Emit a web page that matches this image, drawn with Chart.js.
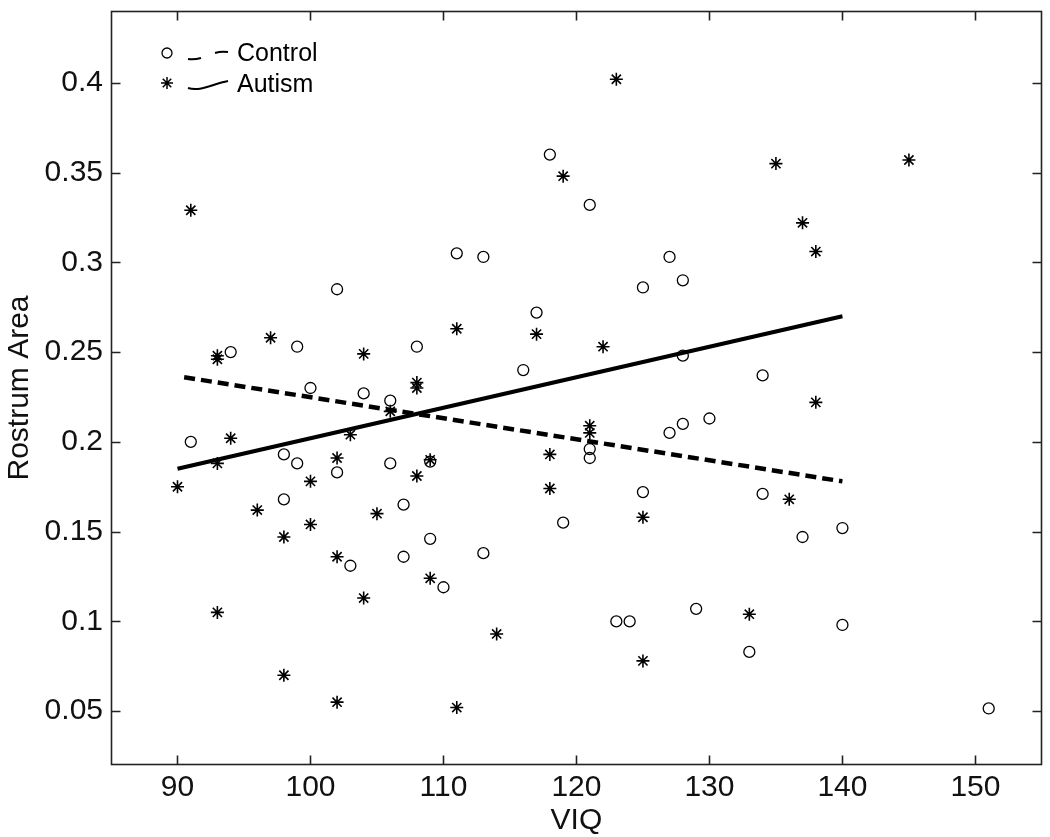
<!DOCTYPE html>
<html><head><meta charset="utf-8">
<script src="https://cdn.jsdelivr.net/npm/chart.js@4.4.1/dist/chart.umd.min.js"></script>
<style>html,body{margin:0;padding:0;background:#fff}canvas{display:block}</style>
</head><body>
<canvas id="c" width="1050" height="837"></canvas>
<script>
// ---- data ----
const controlVIQ  = [91, 94, 98, 98, 99, 99, 100, 102, 102, 103, 104, 106, 106, 107, 107, 108, 109, 109, 110, 111, 113, 113, 116, 117, 118, 119, 121, 121, 121, 123, 124, 125, 125, 127, 127, 128, 128, 128, 129, 130, 133, 134, 134, 137, 140, 140, 151];
const controlArea = [0.200, 0.250, 0.193, 0.168, 0.253, 0.188, 0.230, 0.285, 0.183, 0.131, 0.227, 0.223, 0.188, 0.165, 0.136, 0.253, 0.189, 0.146, 0.119, 0.305, 0.303, 0.138, 0.240, 0.272, 0.360, 0.155, 0.332, 0.196, 0.191, 0.100, 0.100, 0.286, 0.172, 0.303, 0.205, 0.290, 0.248, 0.210, 0.107, 0.213, 0.083, 0.237, 0.171, 0.147, 0.152, 0.098, 0.0515];

const autismVIQ  = [90, 91, 93, 93, 93, 93, 94, 96, 97, 98, 98, 100, 100, 102, 102, 102, 103, 104, 104, 105, 106, 108, 108, 108, 109, 109, 111, 111, 114, 117, 118, 118, 119, 121, 121, 122, 123, 125, 125, 133, 135, 136, 137, 138, 138, 145];
const autismArea = [0.175, 0.329, 0.248, 0.246, 0.188, 0.105, 0.202, 0.162, 0.258, 0.147, 0.070, 0.178, 0.154, 0.191, 0.136, 0.055, 0.204, 0.249, 0.113, 0.160, 0.217, 0.233, 0.230, 0.181, 0.190, 0.124, 0.263, 0.052, 0.093, 0.260, 0.193, 0.174, 0.348, 0.209, 0.205, 0.253, 0.402, 0.158, 0.078, 0.104, 0.355, 0.168, 0.322, 0.306, 0.222, 0.357];

const controlFitVIQ  = [90.5, 140];
const controlFitArea = [0.236, 0.178];
const autismFitVIQ   = [90, 140];
const autismFitArea  = [0.185, 0.270];

const xTicks = [90, 100, 110, 120, 130, 140, 150];
const yTicks = [0.05, 0.1, 0.15, 0.2, 0.25, 0.3, 0.35, 0.4];
const xLabel = 'VIQ';
const yLabel = 'Rostrum Area';
const legendLabels = ['Control', 'Autism'];

// ---- helpers ----
const toXY = (xs, ys) => xs.map((x, i) => ({x: x, y: ys[i]}));
const FONT = "'Liberation Sans', Arial, Helvetica, sans-serif";

const frameTicks = {
  id: 'frameTicks',
  afterDraw(chart) {
    const ctx = chart.ctx, a = chart.chartArea;
    const xs = chart.scales.x, ys = chart.scales.y;
    const L = Math.round(a.left) + 0.5, R = Math.round(a.right) - 0.5;
    const T = Math.round(a.top) + 0.5, B = Math.round(a.bottom) - 0.5;
    ctx.save();
    ctx.strokeStyle = '#222';
    ctx.lineWidth = 1.6;
    ctx.strokeRect(L, T, R - L, B - T);
    const tl = 9;
    ctx.beginPath();
    xTicks.forEach(v => {
      const px = Math.round(xs.getPixelForValue(v)) + 0.5;
      ctx.moveTo(px, B); ctx.lineTo(px, B - tl);
      ctx.moveTo(px, T); ctx.lineTo(px, T + tl);
    });
    yTicks.forEach(v => {
      const py = Math.round(ys.getPixelForValue(v)) + 0.5;
      ctx.moveTo(L, py); ctx.lineTo(L + tl, py);
      ctx.moveTo(R, py); ctx.lineTo(R - tl, py);
    });
    ctx.stroke();
    ctx.restore();
  }
};

const legendPlugin = {
  id: 'mlLegend',
  afterDraw(chart) {
    const ctx = chart.ctx;
    ctx.save();
    ctx.strokeStyle = '#000';
    ctx.fillStyle = '#000';
    // Control entry
    ctx.lineWidth = 1.3;
    ctx.beginPath(); ctx.arc(167, 53, 5, 0, Math.PI * 2); ctx.stroke();
    ctx.lineWidth = 2;
    ctx.beginPath();
    ctx.moveTo(188, 59); ctx.quadraticCurveTo(194, 60, 201, 58);
    ctx.moveTo(215, 53); ctx.quadraticCurveTo(221, 51, 228, 52);
    ctx.stroke();
    // Autism entry (star)
    ctx.lineWidth = 1.5;
    const sx = 167, sy = 83, r = 6;
    ctx.beginPath();
    ctx.moveTo(sx - r, sy); ctx.lineTo(sx + r, sy);
    ctx.moveTo(sx, sy - r); ctx.lineTo(sx, sy + r);
    const d = r * 0.7071;
    ctx.moveTo(sx - d, sy - d); ctx.lineTo(sx + d, sy + d);
    ctx.moveTo(sx - d, sy + d); ctx.lineTo(sx + d, sy - d);
    ctx.stroke();
    ctx.lineWidth = 2;
    ctx.beginPath();
    ctx.moveTo(188, 88); ctx.bezierCurveTo(200, 92, 212, 84, 228, 81);
    ctx.stroke();
    ctx.font = '25px ' + FONT;
    ctx.textBaseline = 'middle';
    ctx.textAlign = 'left';
    ctx.fillText(legendLabels[0], 237, 54);
    ctx.fillText(legendLabels[1], 237, 85);
    ctx.restore();
  }
};

new Chart(document.getElementById('c'), {
  type: 'scatter',
  data: {
    datasets: [
      {label: legendLabels[0], data: toXY(controlVIQ, controlArea), pointStyle: 'circle', pointRadius: 5.5, pointBorderWidth: 1.3,
       borderColor: '#000', backgroundColor: 'rgba(0,0,0,0)', pointBackgroundColor: 'rgba(0,0,0,0)', order: 3},
      {label: legendLabels[1], data: toXY(autismVIQ, autismArea), pointStyle: 'star', pointRadius: 6.5, pointBorderWidth: 1.6,
       borderColor: '#000', backgroundColor: '#000', order: 2},
      {type: 'line', label: legendLabels[0] + ' fit', data: toXY(controlFitVIQ, controlFitArea), borderColor: '#000',
       borderWidth: 4.5, borderDash: [11, 6], borderCapStyle: 'butt', pointRadius: 0, fill: false, order: 1},
      {type: 'line', label: legendLabels[1] + ' fit', data: toXY(autismFitVIQ, autismFitArea), borderColor: '#000',
       borderWidth: 4, pointRadius: 0, fill: false, order: 0}
    ]
  },
  options: {
    responsive: false,
    animation: false,
    layout: {padding: {top: 11, right: 4, left: 0, bottom: 0}},
    plugins: {legend: {display: false}, tooltip: {enabled: false}},
    scales: {
      x: {
        type: 'linear', min: 85, max: 155,
        afterBuildTicks(s) { s.ticks = xTicks.map(v => ({value: v})); },
        afterFit(s) { s.height = 72; s.paddingLeft = 0; s.paddingRight = 0; },
        grid: {display: false, drawTicks: false},
        border: {display: false},
        ticks: {font: {family: FONT, size: 30}, color: '#111', padding: 5, maxRotation: 0, callback: v => String(v)},
        title: {display: true, text: xLabel, font: {family: FONT, size: 30, lineHeight: 1}, color: '#111', padding: {top: 0, bottom: 1}}
      },
      y: {
        type: 'linear', min: 0.02, max: 0.44,
        afterBuildTicks(s) { s.ticks = yTicks.map(v => ({value: v})); },
        afterFit(s) { s.width = 111; s.paddingTop = 0; s.paddingBottom = 0; },
        grid: {display: false, drawTicks: false},
        border: {display: false},
        ticks: {font: {family: FONT, size: 30}, color: '#111', padding: 8, callback: v => String(v)},
        title: {display: true, text: yLabel, font: {family: FONT, size: 30, lineHeight: 1}, color: '#111', padding: {top: 5, bottom: 0}}
      }
    }
  },
  plugins: [frameTicks, legendPlugin]
});
</script>
</body></html>
